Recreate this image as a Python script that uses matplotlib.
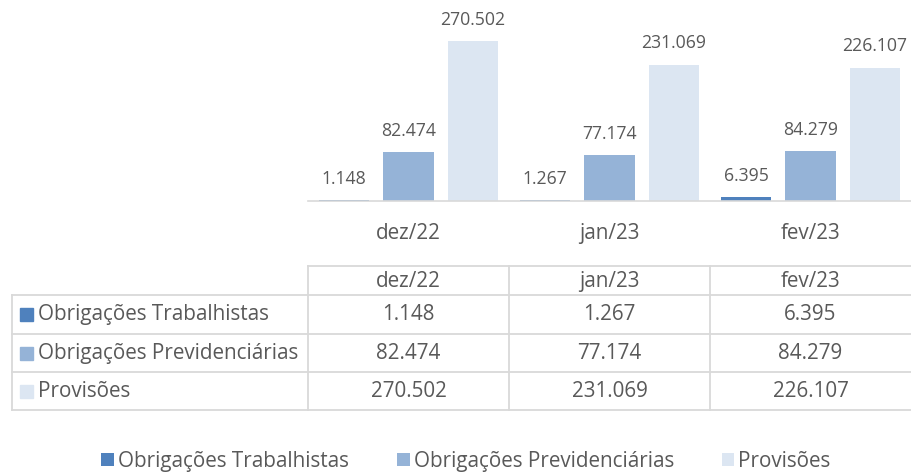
import matplotlib.pyplot as plt
import matplotlib.patches as patches
import numpy as np

plt.rcParams['font.family'] = ['Open Sans', 'DejaVu Sans']

# data
months = ['dez/22', 'jan/23', 'fev/23']
series = ['Obrigações Trabalhistas', 'Obrigações Previdenciárias', 'Provisões']
trabalhistas = [1.148, 1.267, 6.395]
previdenciarias = [82.474, 77.174, 84.279]
provisoes = [270.502, 231.069, 226.107]
values = [trabalhistas, previdenciarias, provisoes]
colors = ['#4F81BD', '#95B3D7', '#DCE6F2']

TXT = '#595959'
GRID = '#D9D9D9'
FS = 14.9       # table, axis and legend text
FS_LBL = 12.7   # data labels on bars
W, H = 911, 473


def fmt(v):
    # brazilian thousands separator
    return f'{v:.3f}'


fig = plt.figure(figsize=(W / 100, H / 100), dpi=100)

# bar axes, placed in pixel coords
x0, x1, ybase, ytop = 308, 911, 201, 24
ax = fig.add_axes([x0 / W, 1 - ybase / H, (x1 - x0) / W, (ybase - ytop) / H])
x = np.arange(len(months))
bw = 0.25
step = 0.32
bars = []
for i, (vals, c) in enumerate(zip(values, colors)):
    b = ax.bar(x + (i - 1) * step, vals, bw, color=c, label=series[i])
    bars.append(b)
    for xi, v in zip(x + (i - 1) * step, vals):
        ax.annotate(fmt(v), (xi, v), xytext=(0, 9), textcoords='offset points',
                    ha='center', va='bottom', fontsize=FS_LBL, color=TXT,
                    annotation_clip=False)
ax.set_xlim(-0.5, 2.5)
ax.set_ylim(0, 300)
ax.set_yticks([])
ax.set_xticks(x)
ax.set_xticklabels(months, fontsize=FS, color=TXT)
ax.tick_params(axis='x', length=0, pad=16)
for s in ['top', 'right', 'left']:
    ax.spines[s].set_visible(False)
ax.spines['bottom'].set_color(GRID)
ax.spines['bottom'].set_linewidth(1.2)

# data table drawn in pixel coords
tab = fig.add_axes([0, 0, 1, 1])
tab.set_xlim(0, W)
tab.set_ylim(H, 0)
tab.axis('off')
col_edges = [12, 308, 509, 710, 911]
row_edges = [266, 295, 334, 372, 410]
lw = 1.3
# header row
tab.plot([col_edges[1], col_edges[-1]], [row_edges[0]] * 2, color=GRID, lw=lw)
for r in row_edges[1:]:
    tab.plot([col_edges[0], col_edges[-1]], [r, r], color=GRID, lw=lw)
for c in col_edges[1:4]:
    tab.plot([c, c], [row_edges[0], row_edges[-1]], color=GRID, lw=lw)
tab.plot([col_edges[0]] * 2, [row_edges[1], row_edges[-1]], color=GRID, lw=lw)

for j, m in enumerate(months):
    cx = (col_edges[j + 1] + col_edges[j + 2]) / 2
    tab.text(cx, (row_edges[0] + row_edges[1]) / 2 + 1, m, ha='center', va='center',
             fontsize=FS, color=TXT)
for i, name in enumerate(series):
    cy = (row_edges[i + 1] + row_edges[i + 2]) / 2
    tab.add_patch(patches.Rectangle((20, cy - 6.5), 13, 13, color=colors[i]))
    tab.text(38, cy, name, ha='left', va='center', fontsize=FS, color=TXT)
    for j in range(len(months)):
        cx = (col_edges[j + 1] + col_edges[j + 2]) / 2
        tab.text(cx, cy, fmt(values[i][j]), ha='center', va='center',
                 fontsize=FS, color=TXT)

leg = fig.legend(handles=bars, labels=series, loc='center', ncol=3,
                 bbox_to_anchor=(466 / W, 1 - 461 / H), frameon=False,
                 fontsize=FS, handlelength=0.62, handleheight=0.62,
                 handletextpad=0.2, columnspacing=2.3, labelcolor=TXT,
                 borderpad=0)

fig.savefig('out.png', dpi=100)
